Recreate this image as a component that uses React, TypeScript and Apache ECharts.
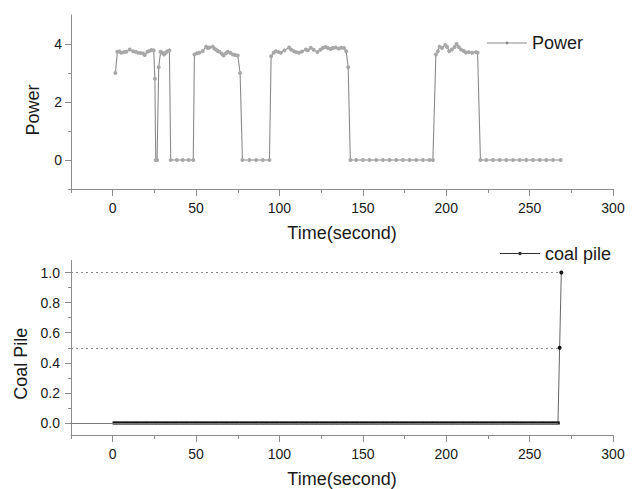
import React, { useEffect, useRef } from "react";
import * as echarts from "echarts";

const xMajorTicks = [0, 50, 100, 150, 200, 250, 300];
const xMinorTicks = [-25, 25, 75, 125, 175, 225, 275];
const powerMajorTicks = [0, 2, 4];
const powerMinorTicks = [-1, 1, 3];
const coalMajorTicks = [0, 0.2, 0.4, 0.6, 0.8, 1.0];
const coalMinorTicks = [0.1, 0.3, 0.5, 0.7, 0.9];

// [time (s), power]
const powerPoints: [number, number][] = [
  [1.6, 3.0], [2.8, 3.73], [4, 3.74], [5.2, 3.7], [6.7, 3.72], [8.2, 3.73], [10.2, 3.81], [12.2, 3.75],
  [13.7, 3.73], [15.2, 3.7], [16.7, 3.69], [18.2, 3.67], [19.2, 3.62], [20.8, 3.73], [22, 3.76], [23.2, 3.79],
  [24.6, 3.78], [25.3, 2.8], [25.8, 0], [26.6, 0], [27.6, 3.2], [28.7, 3.73], [29.8, 3.7], [30.8, 3.64],
  [31.8, 3.7], [32.7, 3.75], [34, 3.78], [34.8, 0], [38.5, 0], [42, 0], [45.5, 0], [48.3, 0],
  [49, 3.64], [50.5, 3.68], [52, 3.7], [54, 3.76], [56, 3.91], [57, 3.86], [58, 3.88], [60, 3.91],
  [61, 3.84], [62, 3.8], [63, 3.76], [64, 3.73], [65.5, 3.66], [66.5, 3.6], [68, 3.68], [69, 3.73],
  [70.5, 3.7], [72, 3.64], [73.5, 3.62], [75, 3.6], [76.4, 3.0], [77.8, 0], [82, 0], [86, 0],
  [90, 0], [94, 0], [95, 3.58], [96.5, 3.7], [97.8, 3.75], [99.5, 3.72], [100.8, 3.7], [103, 3.78],
  [105.8, 3.88], [107, 3.8], [108.7, 3.75], [110, 3.72], [111.7, 3.7], [113.5, 3.74], [115.8, 3.81], [117, 3.78],
  [118.8, 3.87], [120.5, 3.8], [122.7, 3.72], [124.5, 3.8], [126, 3.86], [127.7, 3.9], [129, 3.86], [130.7, 3.83],
  [132, 3.86], [133.7, 3.88], [135.5, 3.84], [137, 3.87], [138.7, 3.86], [140, 3.75], [141.2, 3.2], [142.5, 0],
  [146, 0], [150, 0], [154, 0], [158, 0], [162, 0], [166, 0], [170, 0], [174, 0],
  [178, 0], [182, 0], [186, 0], [190, 0], [192, 0], [193.8, 3.64], [195, 3.75], [196, 3.91],
  [197.5, 3.86], [199.4, 3.97], [200.5, 3.9], [201.8, 3.75], [203.4, 3.81], [205, 3.9], [206.2, 4.0], [207.5, 3.9],
  [208.8, 3.81], [210.5, 3.76], [211.8, 3.71], [213.5, 3.72], [215.5, 3.7], [217.8, 3.72], [218.8, 3.7], [220.5, 0],
  [224, 0], [228, 0], [232, 0], [236, 0], [240, 0], [244, 0], [248, 0], [252, 0],
  [256, 0], [260, 0], [264, 0], [268.6, 0],
];

// [time (s), coal pile]
const coalPoints: [number, number][] = [
  [1, 0], [3, 0], [5, 0], [7, 0], [9, 0], [11, 0], [13, 0], [15, 0], [17, 0], [19, 0],
  [21, 0], [23, 0], [25, 0], [27, 0], [29, 0], [31, 0], [33, 0], [35, 0], [37, 0], [39, 0],
  [41, 0], [43, 0], [45, 0], [47, 0], [49, 0], [51, 0], [53, 0], [55, 0], [57, 0], [59, 0],
  [61, 0], [63, 0], [65, 0], [67, 0], [69, 0], [71, 0], [73, 0], [75, 0], [77, 0], [79, 0],
  [81, 0], [83, 0], [85, 0], [87, 0], [89, 0], [91, 0], [93, 0], [95, 0], [97, 0], [99, 0],
  [101, 0], [103, 0], [105, 0], [107, 0], [109, 0], [111, 0], [113, 0], [115, 0], [117, 0], [119, 0],
  [121, 0], [123, 0], [125, 0], [127, 0], [129, 0], [131, 0], [133, 0], [135, 0], [137, 0], [139, 0],
  [141, 0], [143, 0], [145, 0], [147, 0], [149, 0], [151, 0], [153, 0], [155, 0], [157, 0], [159, 0],
  [161, 0], [163, 0], [165, 0], [167, 0], [169, 0], [171, 0], [173, 0], [175, 0], [177, 0], [179, 0],
  [181, 0], [183, 0], [185, 0], [187, 0], [189, 0], [191, 0], [193, 0], [195, 0], [197, 0], [199, 0],
  [201, 0], [203, 0], [205, 0], [207, 0], [209, 0], [211, 0], [213, 0], [215, 0], [217, 0], [219, 0],
  [221, 0], [223, 0], [225, 0], [227, 0], [229, 0], [231, 0], [233, 0], [235, 0], [237, 0], [239, 0],
  [241, 0], [243, 0], [245, 0], [247, 0], [249, 0], [251, 0], [253, 0], [255, 0], [257, 0], [259, 0],
  [261, 0], [263, 0], [265, 0], [267, 0], [268, 0.5], [269, 1.0],
];

const X_MIN = -25;
const X_MAX = 300;
const POWER_MIN = -1;
const POWER_MAX = 5;
const COAL_MIN = -0.08;
const COAL_MAX = 1.08;
const FONT = "'Liberation Sans', Arial, sans-serif";
const AXIS_COLOR = "#8c8c8c";
const TEXT_COLOR = "#1a1a1a";
const POWER_COLOR = "#8a8a8a";

// legend icons: a line with a small marker in the middle
const POWER_ICON =
  "path://M0,4.45 L40,4.45 L40,5.55 L0,5.55 Z M18.6,5 A1.4,1.4 0 1,1 21.4,5 A1.4,1.4 0 1,1 18.6,5 Z";
const COAL_ICON =
  "path://M0,4.45 L40,4.45 L40,5.55 L0,5.55 Z M18.2,5 A1.8,1.8 0 1,1 21.8,5 A1.8,1.8 0 1,1 18.2,5 Z";

const GRID_TOP = { left: 71, top: 15, width: 542, height: 174 };
const GRID_BOTTOM = { left: 71, top: 260.5, width: 542, height: 174.5 };

export default function App() {
  const ref = useRef<HTMLDivElement>(null);

  useEffect(() => {
    if (!ref.current) return;
    const chart = echarts.init(ref.current, undefined, { renderer: "svg" });

    // drop lines: one per distinct level, from the y axis to the last point at that level
    const levelMax = new Map<number, number>();
    coalPoints.forEach(([t, v]) => {
      levelMax.set(v, Math.max(levelMax.get(v) ?? -Infinity, t));
    });
    const dropLines: any[] = [];
    levelMax.forEach((t, v) => {
      dropLines.push([
        {
          coord: [X_MIN, v],
          lineStyle: v === 0
            ? { type: "solid", color: "#777", width: 1 }
            : { type: [2, 3], color: "#888", width: 1 },
        },
        { coord: [t, v] },
      ]);
    });

    const majorX = (gridIndex: number) => ({
      type: "value",
      gridIndex,
      min: X_MIN,
      max: X_MAX,
      axisLine: { show: true, onZero: false, lineStyle: { color: AXIS_COLOR, width: 1 } },
      axisTick: { show: true, customValues: xMajorTicks, length: 7, lineStyle: { color: AXIS_COLOR } },
      axisLabel: {
        show: true,
        customValues: xMajorTicks,
        fontSize: 14,
        fontFamily: FONT,
        color: TEXT_COLOR,
        margin: 12,
      },
      splitLine: { show: false },
      name: "Time(second)",
      nameLocation: "middle",
      nameGap: 35,
      nameTextStyle: { fontSize: 18, fontFamily: FONT, color: TEXT_COLOR },
    });
    // minor ticks live on an overlaid grid with identical geometry
    const minorX = (gridIndex: number) => ({
      type: "value",
      gridIndex,
      min: X_MIN,
      max: X_MAX,
      axisLine: { show: false, onZero: false },
      axisTick: { show: true, customValues: xMinorTicks, length: 4, lineStyle: { color: AXIS_COLOR } },
      axisLabel: { show: false },
      splitLine: { show: false },
    });
    const minorY = (gridIndex: number, min: number, max: number, ticks: number[]) => ({
      type: "value",
      gridIndex,
      min,
      max,
      axisLine: { show: false, onZero: false },
      axisTick: { show: true, customValues: ticks, length: 3, lineStyle: { color: AXIS_COLOR } },
      axisLabel: { show: false },
      splitLine: { show: false },
    });

    const option: any = {
      animation: false,
      backgroundColor: "#fff",
      grid: [GRID_TOP, GRID_BOTTOM, GRID_TOP, GRID_BOTTOM],
      legend: [
        {
          data: [{ name: "Power", icon: POWER_ICON }],
          left: 487,
          top: 34,
          padding: 0,
          itemWidth: 40,
          itemHeight: 10,
          itemStyle: { color: POWER_COLOR, borderWidth: 0 },
          textStyle: { fontSize: 18, fontFamily: FONT, color: TEXT_COLOR },
        },
        {
          data: [{ name: "coal pile", icon: COAL_ICON }],
          left: 500,
          top: 244.5,
          padding: 0,
          itemWidth: 40,
          itemHeight: 10,
          itemStyle: { color: "#333", borderWidth: 0 },
          textStyle: { fontSize: 18, fontFamily: FONT, color: TEXT_COLOR },
        },
      ],
      xAxis: [majorX(0), majorX(1), minorX(2), minorX(3)],
      yAxis: [
        {
          type: "value",
          gridIndex: 0,
          min: POWER_MIN,
          max: POWER_MAX,
          axisLine: { show: true, onZero: false, lineStyle: { color: AXIS_COLOR, width: 1 } },
          axisTick: { show: true, customValues: powerMajorTicks, length: 6, lineStyle: { color: AXIS_COLOR } },
          axisLabel: {
            show: true,
            customValues: powerMajorTicks,
            fontSize: 14,
            fontFamily: FONT,
            color: TEXT_COLOR,
            margin: 9,
          },
          splitLine: { show: false },
          name: "Power",
          nameLocation: "middle",
          nameGap: 29,
          nameTextStyle: { fontSize: 18, fontFamily: FONT, color: TEXT_COLOR, padding: [0, 16, 0, 0] },
        },
        {
          type: "value",
          gridIndex: 1,
          min: COAL_MIN,
          max: COAL_MAX,
          axisLine: { show: true, onZero: false, lineStyle: { color: AXIS_COLOR, width: 1 } },
          axisTick: { show: true, customValues: coalMajorTicks, length: 6, lineStyle: { color: AXIS_COLOR } },
          axisLabel: {
            show: true,
            customValues: coalMajorTicks,
            fontSize: 14,
            fontFamily: FONT,
            color: TEXT_COLOR,
            margin: 11,
            formatter: (v: number) => v.toFixed(1),
          },
          splitLine: { show: false },
          name: "Coal Pile",
          nameLocation: "middle",
          nameGap: 40,
          nameTextStyle: { fontSize: 18, fontFamily: FONT, color: TEXT_COLOR, padding: [0, 32, 0, 0] },
        },
        minorY(2, POWER_MIN, POWER_MAX, powerMinorTicks),
        minorY(3, COAL_MIN, COAL_MAX, coalMinorTicks),
      ],
      series: [
        {
          name: "Power",
          type: "line",
          xAxisIndex: 0,
          yAxisIndex: 0,
          data: powerPoints,
          symbol: "emptyCircle",
          symbolSize: 2,
          showAllSymbol: true,
          lineStyle: { color: POWER_COLOR, width: 1.1 },
          itemStyle: { color: "#a8a8a8", borderWidth: 0.5 },
          emphasis: { disabled: true },
        },
        {
          name: "coal pile",
          type: "line",
          xAxisIndex: 1,
          yAxisIndex: 1,
          data: coalPoints,
          // densely packed markers form the solid band along zero
          symbol: (value: number[]) => (value[1] === 0 ? "rect" : "circle"),
          symbolSize: (value: number[]) => (value[1] === 0 ? [3.6, 3.2] : 4),
          showAllSymbol: true,
          lineStyle: { color: "#666", width: 1 },
          itemStyle: { color: "#111" },
          emphasis: { disabled: true },
          markLine: {
            silent: true,
            symbol: "none",
            label: { show: false },
            data: dropLines,
          },
          z: 3,
        },
      ],
    };

    chart.setOption(option);
    return () => chart.dispose();
  }, []);

  return (
    <div
      ref={ref}
      style={{ position: "fixed", left: 0, top: 0, width: 636, height: 489, background: "#fff" }}
    />
  );
}
